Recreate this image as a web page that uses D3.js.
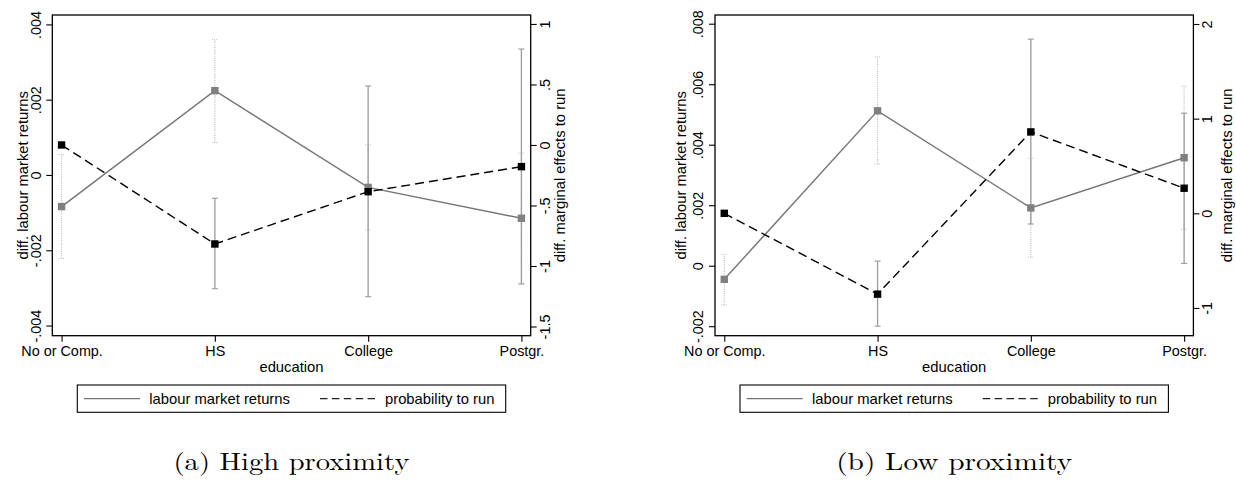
<!DOCTYPE html>
<html>
<head>
<meta charset="utf-8">
<script src="https://cdn.jsdelivr.net/npm/d3@7/dist/d3.min.js"></script>
<style>
html,body{margin:0;padding:0;background:#fff;}
svg{display:block;}
text{font-family:"Liberation Sans",Arial,Helvetica,sans-serif;fill:#000;}
.caption{font-family:"Latin Modern Roman","CMU Serif","Liberation Serif","DejaVu Serif",serif;}
</style>
</head>
<body>
<svg id="chart" width="1236" height="481"></svg>
<script>
// ---------------- DATA ----------------
const categories = ["No or Comp.", "HS", "College", "Postgr."];
const seriesNames = ["labour market returns", "probability to run"];
const xTitle = "education";
const leftTitle = "diff. labour market returns";
const rightTitle = "diff. marginal effects to run";
const captions = ["(a) High proximity", "(b) Low proximity"];

// (a) High proximity
const highLabour   = [-0.00084, 0.00224, -0.00033, -0.00115];
const highLabourLo = [-0.00222, 0.00086, -0.00146, -0.00288];
const highLabourHi = [ 0.00054, 0.00360,  0.00080,  0.00058];
const highProb     = [0, -0.818, -0.386, -0.179];
const highProbLo   = [null, -1.188, -1.254, -1.149];
const highProbHi   = [null, -0.440,  0.488,  0.793];
const highLeftDomain  = [-0.00427, 0.00425];
const highRightDomain = [-1.576, 1.074];
const highLeftTicks  = [-0.004, -0.002, 0, 0.002, 0.004];
const highLeftLabels = ["-.004", "-.002", "0", ".002", ".004"];
const highRightTicks  = [-1.5, -1, -0.5, 0, 0.5, 1];
const highRightLabels = ["-1.5", "-1", "-.5", "0", ".5", "1"];

// (b) Low proximity
const lowLabour   = [-0.00045, 0.00512, 0.00191, 0.00357];
const lowLabourLo = [-0.00130, 0.00336, 0.00028, 0.00120];
const lowLabourHi = [ 0.00038, 0.00691, 0.00355, 0.00594];
const lowProb     = [0, -0.854, 0.860, 0.265];
const lowProbLo   = [null, -1.193, -0.113, -0.529];
const lowProbHi   = [null, -0.505,  1.840,  1.058];
const lowLeftDomain  = [-0.002314, 0.008288];
const lowRightDomain = [-1.293, 2.095];
const lowLeftTicks  = [-0.002, 0, 0.002, 0.004, 0.006, 0.008];
const lowLeftLabels = ["-.002", "0", ".002", ".004", ".006", ".008"];
const lowRightTicks  = [-1, 0, 1, 2];
const lowRightLabels = ["-1", "0", "1", "2"];

// ---------------- DRAW ----------------
const svg = d3.select("#chart");
svg.append("rect").attr("width", 1236).attr("height", 481).attr("fill", "#fff");

const C = {
  labourLine: "#767676", labourMarker: "#808080",
  labourCI: "#c4c4c4", probCI: "#9a9a9a", prob: "#000"
};

function panel(opt) {
  const g = svg.append("g");
  const L = opt.left, R = opt.left + 478.4, T = 15, B = 335.7;

  const x = d3.scalePoint().domain(categories).range([L, R]).padding(0.0605);
  const yL = d3.scaleLinear().domain(opt.leftDomain).range([B, T]);
  const yR = d3.scaleLinear().domain(opt.rightDomain).range([B, T]);

  const labour = categories.map((c, i) => ({c, v: opt.labour[i], lo: opt.labourLo[i], hi: opt.labourHi[i]}));
  const prob = categories.map((c, i) => ({c, v: opt.prob[i], lo: opt.probLo[i], hi: opt.probHi[i]}));

  // left axis
  const axL = g.append("g").attr("transform", `translate(${L},0)`)
    .call(d3.axisLeft(yL).tickValues(opt.leftTicks).tickSize(6).tickFormat((d, i) => opt.leftLabels[i]));
  axL.select(".domain").remove();
  axL.selectAll(".tick line").attr("stroke", "#000").attr("stroke-width", 1.1);
  axL.selectAll(".tick text")
    .attr("x", null).attr("dy", null)
    .attr("transform", `translate(${opt.lTickX - L},0) rotate(-90)`)
    .attr("text-anchor", "middle").attr("dominant-baseline", "central")
    .attr("font-size", 14.4).attr("font-family", null);

  // right axis
  const axR = g.append("g").attr("transform", `translate(${R},0)`)
    .call(d3.axisRight(yR).tickValues(opt.rightTicks).tickSize(6).tickFormat((d, i) => opt.rightLabels[i]));
  axR.select(".domain").remove();
  axR.selectAll(".tick line").attr("stroke", "#000").attr("stroke-width", 1.1);
  axR.selectAll(".tick text")
    .attr("x", null).attr("dy", null)
    .attr("transform", `translate(${opt.rTickX - R},0) rotate(-90)`)
    .attr("text-anchor", "middle").attr("dominant-baseline", "central")
    .attr("font-size", 14.4).attr("font-family", null);

  // bottom axis
  const axB = g.append("g").attr("transform", `translate(0,${B})`)
    .call(d3.axisBottom(x).tickSize(6));
  axB.select(".domain").remove();
  axB.selectAll(".tick line").attr("stroke", "#000").attr("stroke-width", 1.1);
  axB.selectAll(".tick text").attr("y", 15).attr("dy", null)
    .attr("dominant-baseline", "central")
    .attr("font-size", 14.4).attr("font-family", null);

  // frame
  g.append("rect").attr("x", L).attr("y", T).attr("width", R - L).attr("height", B - T)
    .attr("fill", "none").attr("stroke", "#000").attr("stroke-width", 1.3);

  // axis titles
  g.append("text").attr("transform", `translate(${opt.lTitleX},${(T + B) / 2}) rotate(-90)`)
    .attr("text-anchor", "middle").attr("dominant-baseline", "central")
    .attr("font-size", 14.8).text(leftTitle);
  g.append("text").attr("transform", `translate(${opt.rTitleX},${(T + B) / 2}) rotate(-90)`)
    .attr("text-anchor", "middle").attr("dominant-baseline", "central")
    .attr("font-size", 14.8).text(rightTitle);
  g.append("text").attr("x", (L + R) / 2).attr("y", 367)
    .attr("text-anchor", "middle").attr("dominant-baseline", "central")
    .attr("font-size", 14.8).text(xTitle);

  const cap = 3;
  // labour CIs (dotted light gray)
  const lci = g.append("g");
  labour.forEach(d => {
    const cx = x(d.c);
    lci.append("line").attr("x1", cx).attr("x2", cx).attr("y1", yL(d.lo)).attr("y2", yL(d.hi))
      .attr("stroke", C.labourCI).attr("stroke-width", 1.4).attr("stroke-dasharray", "1,1.2");
    [d.lo, d.hi].forEach(v => lci.append("line").attr("x1", cx - cap).attr("x2", cx + cap)
      .attr("y1", yL(v)).attr("y2", yL(v)).attr("stroke", C.labourCI).attr("stroke-width", 1.1)
      .attr("stroke-dasharray", "1,1.2"));
  });
  // prob CIs (solid gray)
  const pci = g.append("g");
  prob.filter(d => d.lo !== null).forEach(d => {
    const cx = x(d.c);
    pci.append("line").attr("x1", cx).attr("x2", cx).attr("y1", yR(d.lo)).attr("y2", yR(d.hi))
      .attr("stroke", C.probCI).attr("stroke-width", 1.3);
    [d.lo, d.hi].forEach(v => pci.append("line").attr("x1", cx - cap).attr("x2", cx + cap)
      .attr("y1", yR(v)).attr("y2", yR(v)).attr("stroke", C.probCI).attr("stroke-width", 1.1));
  });

  // lines
  g.append("path").datum(labour)
    .attr("d", d3.line().x(d => x(d.c)).y(d => yL(d.v)))
    .attr("fill", "none").attr("stroke", C.labourLine).attr("stroke-width", 1.4);
  g.append("path").datum(prob)
    .attr("d", d3.line().x(d => x(d.c)).y(d => yR(d.v)))
    .attr("fill", "none").attr("stroke", C.prob).attr("stroke-width", 1.4).attr("stroke-dasharray", "9,5");

  // markers
  const ms = 7.4;
  g.append("g").selectAll("rect").data(labour).join("rect")
    .attr("x", d => x(d.c) - ms / 2).attr("y", d => yL(d.v) - ms / 2)
    .attr("width", ms).attr("height", ms).attr("fill", C.labourMarker);
  g.append("g").selectAll("rect").data(prob).join("rect")
    .attr("x", d => x(d.c) - ms / 2).attr("y", d => yR(d.v) - ms / 2)
    .attr("width", ms).attr("height", ms).attr("fill", C.prob);

  // legend
  const lgL = (L + R) / 2 - 214.2, lgT = 385, lgW = 428.4, lgH = 27.3;
  const lg = g.append("g").attr("transform", `translate(${lgL},${lgT})`);
  lg.append("rect").attr("width", lgW).attr("height", lgH).attr("fill", "#fff")
    .attr("stroke", "#000").attr("stroke-width", 1.1);
  const my = lgH / 2;
  lg.append("line").attr("x1", 6.7).attr("x2", 62.7).attr("y1", my).attr("y2", my)
    .attr("stroke", C.labourLine).attr("stroke-width", 1.4);
  lg.append("text").attr("x", 72).attr("y", my).attr("dominant-baseline", "central")
    .attr("font-size", 14.8).text(seriesNames[0]);
  lg.append("line").attr("x1", 242.7).attr("x2", 297.7).attr("y1", my).attr("y2", my)
    .attr("stroke", "#222").attr("stroke-width", 1.4).attr("stroke-dasharray", "7.5,4.4");
  lg.append("text").attr("x", 307.7).attr("y", my).attr("dominant-baseline", "central")
    .attr("font-size", 14.8).text(seriesNames[1]);

  // caption
  g.append("text").attr("class", "caption").attr("x", (L + R) / 2).attr("y", 470)
    .attr("text-anchor", "middle").attr("font-size", 24)
    .attr("textLength", 236).attr("lengthAdjust", "spacingAndGlyphs")
    .text(opt.caption);
}

panel({
  left: 52.3, labour: highLabour, labourLo: highLabourLo, labourHi: highLabourHi,
  prob: highProb, probLo: highProbLo, probHi: highProbHi,
  leftDomain: highLeftDomain, rightDomain: highRightDomain,
  leftTicks: highLeftTicks, leftLabels: highLeftLabels,
  rightTicks: highRightTicks, rightLabels: highRightLabels,
  lTickX: 35.5, lTitleX: 22.5, rTickX: 545, rTitleX: 560, caption: captions[0]
});
panel({
  left: 715, labour: lowLabour, labourLo: lowLabourLo, labourHi: lowLabourHi,
  prob: lowProb, probLo: lowProbLo, probHi: lowProbHi,
  leftDomain: lowLeftDomain, rightDomain: lowRightDomain,
  leftTicks: lowLeftTicks, leftLabels: lowLeftLabels,
  rightTicks: lowRightTicks, rightLabels: lowRightLabels,
  lTickX: 697.5, lTitleX: 681, rTickX: 1206.5, rTitleX: 1227, caption: captions[1]
});
</script>
</body>
</html>
